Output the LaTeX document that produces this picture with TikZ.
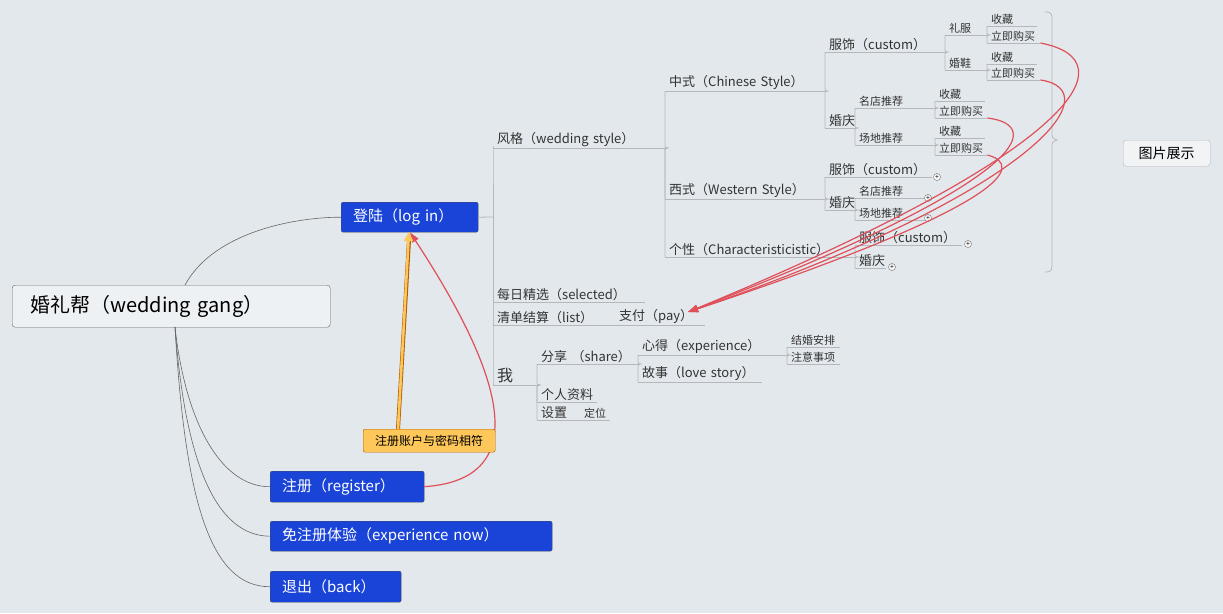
\documentclass[tikz,border=0pt]{standalone}
\usepackage{fontspec}
\setmainfont{Noto Sans CJK SC}
\usetikzlibrary{arrows.meta}
\definecolor{bg}{HTML}{E3E8EC}
\definecolor{ln}{HTML}{B4B8BC}
\definecolor{blu}{HTML}{1A44D8}
\definecolor{rd}{HTML}{E0505A}
\definecolor{note}{HTML}{FDC75A}
\newcommand\fsA{\fontsize{13}{15}\selectfont}
\newcommand\fsB{\fontsize{11}{13}\selectfont}
\newcommand\T[6]{\pgfmathsetmacro\tw{#4-#2-8}\node[ul,text width=\tw pt,font=#6] (#1) at (#2,#3) {#5};}
\begin{document}
\begin{tikzpicture}[x=1pt,y=-1pt,
  ul/.style={inner xsep=4pt,inner ysep=1.5pt,anchor=south west,align=left,text=black!80,
    append after command={(\tikzlastnode.south west) edge[ln] (\tikzlastnode.south east)}},
  ln/.style={draw=ln,line width=0.8pt},
  cn/.style={ln,rounded corners=2pt},
  box/.style={draw=black!70,fill=blu,text=white,rounded corners=2pt,anchor=north west,font=\fontsize{15}{17}\selectfont,inner xsep=12pt,inner ysep=0pt,align=left},
  plus/.style={circle,draw=black!60,fill=white,inner sep=0pt,minimum size=7pt,font=\fontsize{7}{7}\selectfont},
  rc/.style={draw=rd,line width=1.2pt,-{Triangle[length=10pt,width=7pt]}},
  root/.style={line width=0.6pt,draw=black!60}]
\useasboundingbox[fill=bg] (0,0) rectangle (1223,613);
% root and boxes
\node[draw=black!60,fill=bg!60!white,rounded corners=3pt,minimum width=318pt,minimum height=42pt,anchor=north west,font=\fontsize{20}{22}\selectfont,inner xsep=18pt,text width=282pt,align=left] (root) at (12,285) {婚礼帮（wedding gang）};
\node[box,minimum width=137pt,minimum height=30pt,text width=113pt] (login) at (341,202) {登陆（log in）};
\node[box,minimum width=154pt,minimum height=31pt,text width=130pt] (reg) at (270,471) {注册（register）};
\node[box,minimum width=282pt,minimum height=30pt,text width=258pt] (exp) at (270,521) {免注册体验（experience now）};
\node[box,minimum width=131pt,minimum height=31pt,text width=107pt] (back) at (270,571) {退出（back）};
\coordinate (rt) at (185,285);
\coordinate (rb) at (175,327);
\draw[root] (rt) .. controls (215,230) and (300,217) .. (login.west);
\draw[root] (rb) .. controls (185,420) and (220,487) .. (reg.west);
\draw[root] (rb) .. controls (185,460) and (215,536) .. (exp.west);
\draw[root] (rb) .. controls (185,500) and (210,587) .. (back.west);
% level 1
\T{style}{493}{148}{665}{风格（wedding style）}{\fsA}
\T{sel}{493}{302}{645}{每日精选（selected）}{\fsA}
\T{list}{493}{325}{615}{清单结算（list）}{\fsA}
\T{pay}{615}{325}{705}{支付（pay）}{\fsA}
\T{me}{493}{385}{537}{我}{\fontsize{16}{18}\selectfont}
\draw[ln] (login.east) -- (493,217);
\draw[cn] (493,217) |- (style.south west);
\draw[cn] (493,217) |- (sel.south west);
\draw[cn] (493,217) |- (list.south west);
\draw[cn] (493,217) |- (me.south west);
% me
\T{share}{537}{364}{638}{分享 （share）}{\fsA}
\T{prof}{537}{402}{597}{个人资料}{\fsA}
\T{set}{537}{420}{580}{设置}{\fsA}
\T{loc}{580}{420}{610}{定位}{\fsB}
\foreach \c in {share,prof,set} \draw[cn] (me.south east) -| (\c.south west);
\T{xinde}{638}{355}{787}{心得（experience）}{\fsA}
\T{story}{638}{382}{762}{故事（love story）}{\fsA}
\foreach \c in {xinde,story} \draw[cn] (share.south east) -| (\c.south west);
\T{jh}{787}{347}{840}{结婚安排}{\fsB}
\T{zy}{787}{364}{840}{注意事项}{\fsB}
\foreach \c in {jh,zy} \draw[cn] (xinde.south east) -| (\c.south west);
% styles
\T{cn}{665}{91}{825}{中式（Chinese Style）}{\fsA}
\T{wst}{665}{199}{825}{西式（Western Style）}{\fsA}
\T{gx}{665}{257}{855}{个性（Characteristicistic）}{\fsA}
\foreach \c in {cn,wst,gx} \draw[cn] (style.south east) -| (\c.south west);
% chinese
\T{cfs}{825}{52}{945}{服饰（custom）}{\fsA}
\T{chq}{825}{128}{855}{婚庆}{\fsA}
\foreach \c in {cfs,chq} \draw[cn] (cn.south east) -| (\c.south west);
\T{lf}{945}{35}{987}{礼服}{\fsB}
\T{hx}{945}{70}{987}{婚鞋}{\fsB}
\foreach \c in {lf,hx} \draw[cn] (cfs.south east) -| (\c.south west);
\T{lfa}{987}{26}{1037}{收藏}{\fsB}
\T{lfb}{987}{43}{1040}{立即购买}{\fsB}
\T{hxa}{987}{64}{1037}{收藏}{\fsB}
\T{hxb}{987}{80}{1040}{立即购买}{\fsB}
\foreach \c in {lfa,lfb} \draw[cn] (lf.south east) -| (\c.south west);
\foreach \c in {hxa,hxb} \draw[cn] (hx.south east) -| (\c.south west);
\T{md}{855}{108}{935}{名店推荐}{\fsB}
\T{cd}{855}{145}{935}{场地推荐}{\fsB}
\foreach \c in {md,cd} \draw[cn] (chq.south east) -| (\c.south west);
\T{mda}{935}{101}{985}{收藏}{\fsB}
\T{mdb}{935}{118}{987}{立即购买}{\fsB}
\T{cda}{935}{138}{985}{收藏}{\fsB}
\T{cdb}{935}{155}{987}{立即购买}{\fsB}
\foreach \c in {mda,mdb} \draw[cn] (md.south east) -| (\c.south west);
\foreach \c in {cda,cdb} \draw[cn] (cd.south east) -| (\c.south west);
% western
\T{wfs}{825}{177}{932}{服饰（custom）}{\fsA}
\T{whq}{825}{210}{855}{婚庆}{\fsA}
\foreach \c in {wfs,whq} \draw[cn] (wst.south east) -| (\c.south west);
\T{wmd}{855}{198}{925}{名店推荐}{\fsB}
\T{wcd}{855}{220}{925}{场地推荐}{\fsB}
\foreach \c in {wmd,wcd} \draw[cn] (whq.south east) -| (\c.south west);
% gexing
\T{gfs}{855}{245}{962}{服饰（custom）}{\fsA}
\T{ghq}{855}{268}{886}{婚庆}{\fsA}
\foreach \c in {gfs,ghq} \draw[cn] (gx.south east) -| (\c.south west);
\node[plus] (p1) at (937,177) {+};
\node[plus] (p2) at (928,198) {+};
\node[plus] (p3) at (928,218) {+};
\node[plus] (p4) at (968,244) {+};
\node[plus] (p5) at (892,267) {+};
% brace and picture box
\draw[draw=ln,line width=0.8pt] (1045,12) .. controls (1052,12) and (1052,14) .. (1052,22) -- (1052,132) .. controls (1052,138) .. (1057,140) .. controls (1052,142) .. (1052,148) -- (1052,262) .. controls (1052,270) and (1052,272) .. (1045,272);
\node[draw=ln,fill=bg!50!white,rounded corners=3pt,minimum width=87pt,minimum height=26pt,anchor=north west,font=\fontsize{14}{16}\selectfont] (pic) at (1123,140) {图片展示};
% red curves
\coordinate (payend) at (688,312);
\draw[rc] (lfb.south east) .. controls (1130,60) and (1080,150) .. (payend);
\draw[rc] (hxb.south east) .. controls (1110,90) and (1040,190) .. (payend);
\draw[rc] (mdb.south east) .. controls (1045,125) and (1030,180) .. (payend);
\draw[rc] (cdb.south east) .. controls (1025,165) and (1010,205) .. (payend);
\draw[rc] (reg.east) .. controls (520,480) and (520,400) .. (login.south -| 410,0);
% callout
\node[draw=orange!70!black,fill=note,rounded corners=2pt,minimum width=132pt,minimum height=23pt,anchor=north west,font=\fontsize{12}{14}\selectfont] (note) at (363,429) {注册账户与密码相符};
\draw[draw=orange!70!black,line width=4pt] (note.north west -| 398,0) -- (409,240);
\draw[draw=note,line width=2.6pt,-{Triangle[length=9pt,width=9pt]}] (note.north west -| 398,0) -- (409,232);
\end{tikzpicture}
\end{document}
